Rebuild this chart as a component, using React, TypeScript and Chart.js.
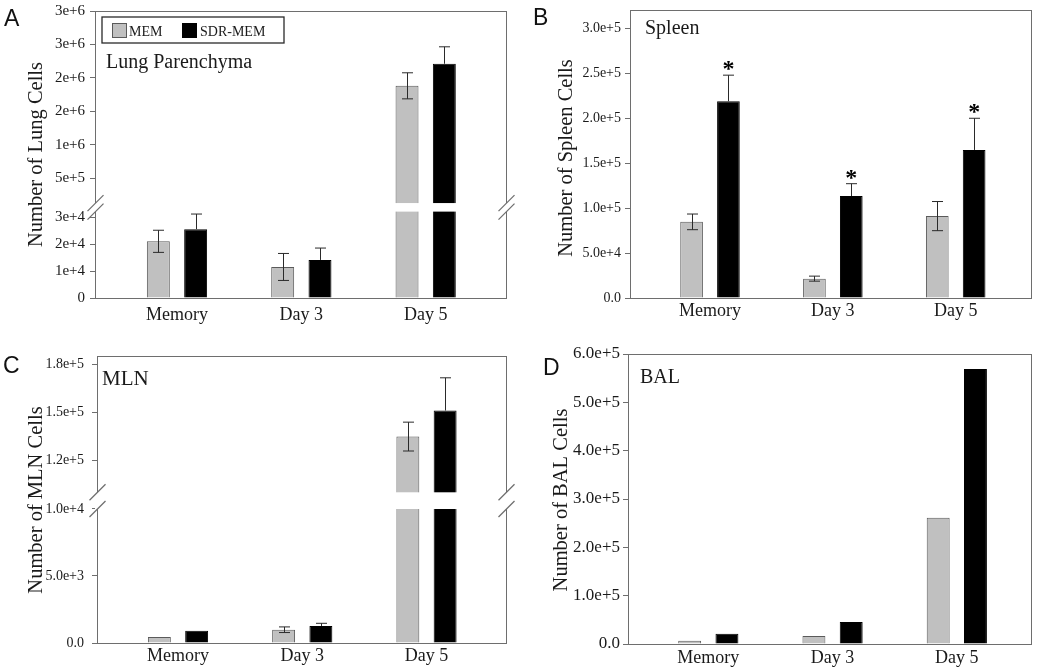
import React, { useEffect, useRef } from "react";
import { Chart, registerables, LinearScale } from "chart.js";

Chart.register(...registerables);

// ---------------- data ----------------
const categories = ["Memory", "Day 3", "Day 5"];
const seriesNames = ["MEM", "SDR-MEM"];

// A: Lung Parenchyma
const lungMem = [21000, 11500, 1880000];
const lungMemErr = [4100, 5000, 195000];
const lungSdr = [25500, 14100, 2210000];
const lungSdrErr = [5600, 4400, 254000];
const lungTickValues = [0, 10000, 20000, 30000, 500000, 1000000, 1500000, 2000000, 2500000, 3000000];
const lungTickLabels = ["0", "1e+4", "2e+4", "3e+4", "5e+5", "1e+6", "2e+6", "2e+6", "3e+6", "3e+6"];

// B: Spleen
const spleenMem = [84600, 21500, 91000];
const spleenMemErr = [8700, 2800, 16200];
const spleenSdr = [218600, 113300, 164500];
const spleenSdrErr = [29000, 13700, 35200];
const spleenSignificant = [true, true, true];
const spleenTickValues = [0, 50000, 100000, 150000, 200000, 250000, 300000];
const spleenTickLabels = ["0.0", "5.0e+4", "1.0e+5", "1.5e+5", "2.0e+5", "2.5e+5", "3.0e+5"];

// C: MLN
const mlnMem = [450, 990, 134750];
const mlnMemErr = [0, 210, 9000];
const mlnSdr = [920, 1270, 151000];
const mlnSdrErr = [0, 200, 20400];
const mlnTickValues = [0, 5000, 10000, 120000, 150000, 180000];
const mlnTickLabels = ["0.0", "5.0e+3", "1.0e+4", "1.2e+5", "1.5e+5", "1.8e+5"];

// D: BAL
const balMem = [6800, 16600, 261000];
const balSdr = [21300, 45600, 569000];
const balTickValues = [0, 100000, 200000, 300000, 400000, 500000, 600000];
const balTickLabels = ["0.0", "1.0e+5", "2.0e+5", "3.0e+5", "4.0e+5", "5.0e+5", "6.0e+5"];

// ---------------- styles ----------------
const SERIF = "'Liberation Serif', 'Times New Roman', serif";
const SANS = "'Liberation Sans', Arial, sans-serif";
const MEM_COLOR = "#c0c0c0";
const MEM_BORDER = "#5a5a5a";
const SDR_COLOR = "#000000";
const FRAME = "#6e6e6e";
const TEXT = "#1a1a1a";
const ERR = "#2a2a2a";
const W = 525;
const H = 336;

type Seg = { min: number; max: number; from: number; to: number };
const breakSpecs: Record<string, Seg[]> = {};

function decimalFor(segs: Seg[], v: number): number {
  for (let i = 0; i < segs.length; i++) {
    const s = segs[i];
    if (v < s.min && i > 0) {
      const p = segs[i - 1];
      return p.to + ((v - p.max) / (s.min - p.max)) * (s.from - p.to);
    }
    if (v <= s.max || i === segs.length - 1) {
      return s.from + ((v - s.min) / (s.max - s.min)) * (s.to - s.from);
    }
  }
  return 0;
}

function valueFor(segs: Seg[], d: number): number {
  for (let i = 0; i < segs.length; i++) {
    const s = segs[i];
    if (d < s.from && i > 0) {
      const p = segs[i - 1];
      return p.max + ((d - p.to) / (s.from - p.to)) * (s.min - p.max);
    }
    if (d <= s.to || i === segs.length - 1) {
      return s.min + ((d - s.from) / (s.to - s.from)) * (s.max - s.min);
    }
  }
  return 0;
}

class BrokenLinearScale extends LinearScale {
  static id = "brokenLinear";
  getPixelForValue(value: number) {
    const segs = breakSpecs[(this as any).options.breakKey];
    return (this as any).getPixelForDecimal(decimalFor(segs, value));
  }
  getValueForPixel(pixel: number) {
    const segs = breakSpecs[(this as any).options.breakKey];
    return valueFor(segs, (this as any).getDecimalForPixel(pixel));
  }
}
Chart.register(BrokenLinearScale as any);

type PanelSpec = {
  key: string;
  cx: number;
  cy: number;
  area: { left: number; right: number; top: number; bottom: number };
  xMin: number;
  xMax: number;
  mem: number[];
  sdr: number[];
  memErr?: number[];
  sdrErr?: number[];
  stars?: boolean[];
  yMax: number;
  segs?: Seg[];
  tickValues: number[];
  tickLabels: string[];
  tickSize: number;
  tickPad: number;
  xPad: number;
  yTitle: string;
  yTitleX: number;
  yTitleY: number;
  letter: string;
  letterX: number;
  letterY: number;
  inner: string;
  innerX: number;
  innerY: number;
  innerSize: number;
  legend?: boolean;
};

const panels: PanelSpec[] = [
  {
    key: "A", cx: 0, cy: 0,
    area: { left: 95, right: 507, top: 11, bottom: 298 },
    xMin: 0.3406, xMax: 3.654,
    mem: lungMem, sdr: lungSdr, memErr: lungMemErr, sdrErr: lungSdrErr,
    yMax: 3000000,
    segs: [
      { min: 0, max: 32000, from: 0, to: 0.301 },
      { min: 125000, max: 3000000, from: 0.3308, to: 1 },
    ],
    tickValues: lungTickValues, tickLabels: lungTickLabels, tickSize: 15, tickPad: 5, xPad: 6,
    yTitle: "Number of Lung Cells", yTitleX: 42, yTitleY: 154.5,
    letter: "A", letterX: 4, letterY: 26,
    inner: "Lung Parenchyma", innerX: 106, innerY: 68, innerSize: 20,
    legend: true,
  },
  {
    key: "B", cx: 525, cy: 0,
    area: { left: 630, right: 1032, top: 10, bottom: 298 },
    xMin: 0.3488, xMax: 3.621,
    mem: spleenMem, sdr: spleenSdr, memErr: spleenMemErr, sdrErr: spleenSdrErr,
    stars: spleenSignificant,
    yMax: 320000,
    tickValues: spleenTickValues, tickLabels: spleenTickLabels, tickSize: 14, tickPad: 4, xPad: 2,
    yTitle: "Number of Spleen Cells", yTitleX: 572, yTitleY: 158,
    letter: "B", letterX: 533, letterY: 25,
    inner: "Spleen", innerX: 645, innerY: 34, innerSize: 20,
  },
  {
    key: "C", cx: 0, cy: 336,
    area: { left: 97, right: 507, top: 356, bottom: 643 },
    xMin: 0.348, xMax: 3.648,
    mem: mlnMem, sdr: mlnSdr, memErr: mlnMemErr, sdrErr: mlnSdrErr,
    yMax: 185000,
    segs: [
      { min: 0, max: 10000, from: 0, to: 0.4669 },
      { min: 100000, max: 185000, from: 0.5251, to: 1 },
    ],
    tickValues: mlnTickValues, tickLabels: mlnTickLabels, tickSize: 14, tickPad: 8, xPad: 2,
    yTitle: "Number of MLN Cells", yTitleX: 42, yTitleY: 500,
    letter: "C", letterX: 3, letterY: 373,
    inner: "MLN", innerX: 102, innerY: 385, innerSize: 21,
  },
  {
    key: "D", cx: 525, cy: 336,
    area: { left: 628, right: 1032, top: 354, bottom: 644 },
    xMin: 0.3537, xMax: 3.605,
    mem: balMem, sdr: balSdr,
    yMax: 600000,
    tickValues: balTickValues, tickLabels: balTickLabels, tickSize: 17, tickPad: 3, xPad: 3,
    yTitle: "Number of BAL Cells", yTitleX: 567, yTitleY: 500,
    letter: "D", letterX: 543, letterY: 375,
    inner: "BAL", innerX: 640, innerY: 383, innerSize: 20,
  },
];

panels.forEach((p) => {
  if (p.segs) breakSpecs[p.key] = p.segs;
});

function line(ctx: CanvasRenderingContext2D, x1: number, y1: number, x2: number, y2: number) {
  ctx.beginPath();
  ctx.moveTo(x1, y1);
  ctx.lineTo(x2, y2);
  ctx.stroke();
}

function makeDecor(p: PanelSpec) {
  return {
    id: "decor" + p.key,
    afterDraw(chart: any) {
      const ctx: CanvasRenderingContext2D = chart.ctx;
      const ys = chart.scales.y;
      const a = chart.chartArea;
      ctx.save();

      // error bars
      const sets = [
        { vals: p.mem, errs: p.memErr, lower: true },
        { vals: p.sdr, errs: p.sdrErr, lower: false },
      ];
      sets.forEach((s, di) => {
        if (!s.errs) return;
        const meta = chart.getDatasetMeta(di);
        meta.data.forEach((el: any, i: number) => {
          const e = s.errs![i];
          if (!e) return;
          const x = Math.round(el.x) + 0.5;
          const top = ys.getPixelForValue(s.vals[i] + e);
          const bot = s.lower ? ys.getPixelForValue(s.vals[i] - e) : el.y;
          ctx.strokeStyle = ERR;
          ctx.lineWidth = 1;
          line(ctx, x, top, x, bot);
          line(ctx, x - 5.5, top, x + 5.5, top);
          if (s.lower) line(ctx, x - 5.5, bot, x + 5.5, bot);
        });
      });

      // frame
      ctx.strokeStyle = FRAME;
      ctx.lineWidth = 1;
      ctx.strokeRect(Math.round(a.left) + 0.5, Math.round(a.top) + 0.5,
        Math.round(a.right - a.left) - 1, Math.round(a.bottom - a.top));

      ctx.translate(-p.cx, -p.cy);

      // axis breaks
      if (p.segs) {
        const yHi = ys.getPixelForValue(p.segs[1].min) + p.cy;
        const yLo = ys.getPixelForValue(p.segs[0].max) + p.cy;
        ctx.fillStyle = "#ffffff";
        ctx.fillRect(p.area.left - 2, yHi, p.area.right - p.area.left + 4, yLo - yHi);
        ctx.strokeStyle = FRAME;
        ctx.lineWidth = 1.2;
        [p.area.left + 0.5, p.area.right - 0.5].forEach((xe) => {
          [yHi, yLo].forEach((yc) => line(ctx, xe - 8, yc + 8, xe + 8, yc - 8));
        });
      }

      // significance stars
      if (p.stars && p.sdrErr) {
        const meta = chart.getDatasetMeta(1);
        ctx.fillStyle = "#000";
        ctx.font = `bold 24px ${SERIF}`;
        ctx.textAlign = "center";
        ctx.textBaseline = "alphabetic";
        meta.data.forEach((el: any, i: number) => {
          if (!p.stars![i]) return;
          const top = ys.getPixelForValue(p.sdr[i] + p.sdrErr![i]) + p.cy;
          ctx.fillText("*", el.x + p.cx, top + 1);
        });
      }

      // legend
      if (p.legend) {
        ctx.strokeStyle = "#2a2a2a";
        ctx.lineWidth = 1.3;
        ctx.strokeRect(102, 17, 182, 26);
        ctx.fillStyle = MEM_COLOR;
        ctx.fillRect(112, 23, 15, 15);
        ctx.strokeStyle = MEM_BORDER;
        ctx.lineWidth = 1;
        ctx.strokeRect(112.5, 23.5, 14, 14);
        ctx.fillStyle = SDR_COLOR;
        ctx.fillRect(182, 23, 15, 15);
        ctx.fillStyle = TEXT;
        ctx.font = `14px ${SERIF}`;
        ctx.textAlign = "left";
        ctx.textBaseline = "alphabetic";
        ctx.fillText(seriesNames[0], 129, 36);
        ctx.fillText(seriesNames[1], 200, 36);
      }

      // panel letter
      ctx.fillStyle = "#111";
      ctx.font = `23px ${SANS}`;
      ctx.textAlign = "left";
      ctx.textBaseline = "alphabetic";
      ctx.fillText(p.letter, p.letterX, p.letterY);

      // inner title
      ctx.fillStyle = TEXT;
      ctx.font = `${p.innerSize}px ${SERIF}`;
      ctx.fillText(p.inner, p.innerX, p.innerY);

      // y title
      ctx.save();
      ctx.translate(p.yTitleX, p.yTitleY);
      ctx.rotate(-Math.PI / 2);
      ctx.font = `20.5px ${SERIF}`;
      ctx.textAlign = "center";
      ctx.textBaseline = "alphabetic";
      ctx.fillText(p.yTitle, 0, 0);
      ctx.restore();

      ctx.restore();
    },
  };
}

function buildConfig(p: PanelSpec): any {
  const leftW = p.area.left - p.cx;
  const padTop = p.area.top - p.cy;
  const padRight = p.cx + W - p.area.right;
  const xH = p.cy + H - p.area.bottom;
  return {
    type: "bar",
    data: {
      datasets: [
        {
          label: seriesNames[0],
          data: p.mem.map((y, i) => ({ x: i + 1, y })),
          backgroundColor: MEM_COLOR,
          borderColor: MEM_BORDER,
          borderWidth: 1,
          categoryPercentage: 0.6,
          barPercentage: 0.615,
        },
        {
          label: seriesNames[1],
          data: p.sdr.map((y, i) => ({ x: i + 1, y })),
          backgroundColor: SDR_COLOR,
          borderColor: SDR_COLOR,
          borderWidth: 1,
          categoryPercentage: 0.6,
          barPercentage: 0.615,
        },
      ],
    },
    options: {
      animation: false,
      responsive: false,
      devicePixelRatio: 1,
      layout: { padding: { left: 0, top: padTop, right: padRight, bottom: 0 } },
      plugins: { legend: { display: false }, tooltip: { enabled: false } },
      scales: {
        x: {
          type: "linear",
          min: p.xMin,
          max: p.xMax,
          offset: false,
          afterBuildTicks: (s: any) => {
            s.ticks = categories.map((_, i) => ({ value: i + 1 }));
          },
          afterFit: (s: any) => {
            s.height = xH;
            s.paddingLeft = 0;
            s.paddingRight = 0;
          },
          ticks: {
            autoSkip: false,
            maxRotation: 0,
            minRotation: 0,
            padding: p.xPad,
            color: TEXT,
            font: { family: SERIF, size: 18 },
            callback: (_v: number, i: number) => categories[i],
          },
          grid: { display: false, drawTicks: false, offset: false },
          border: { display: false },
        },
        y: {
          type: p.segs ? "brokenLinear" : "linear",
          breakKey: p.key,
          min: 0,
          max: p.yMax,
          afterBuildTicks: (s: any) => {
            s.ticks = p.tickValues.map((v) => ({ value: v }));
          },
          afterFit: (s: any) => {
            s.width = leftW;
            s.paddingTop = 0;
            s.paddingBottom = 0;
          },
          ticks: {
            autoSkip: false,
            padding: p.tickPad,
            color: TEXT,
            font: { family: SERIF, size: p.tickSize },
            callback: (_v: number, i: number) => p.tickLabels[i],
          },
          grid: {
            display: true,
            drawOnChartArea: false,
            drawTicks: true,
            tickLength: 5,
            color: FRAME,
            lineWidth: 1,
          },
          border: { display: false },
        },
      },
    },
    plugins: [makeDecor(p)],
  };
}

function Panel({ spec }: { spec: PanelSpec }) {
  const ref = useRef<HTMLCanvasElement>(null);
  useEffect(() => {
    if (!ref.current) return;
    const chart = new Chart(ref.current, buildConfig(spec));
    return () => chart.destroy();
  }, [spec]);
  return (
    <div style={{ position: "absolute", left: spec.cx, top: spec.cy, width: W, height: H }}>
      <canvas ref={ref} width={W} height={H} style={{ width: W, height: H, display: "block" }} />
    </div>
  );
}

export default function App() {
  return (
    <div style={{ position: "absolute", left: 0, top: 0, width: 1050, height: 672, background: "#fff" }}>
      {panels.map((p) => (
        <Panel key={p.key} spec={p} />
      ))}
    </div>
  );
}
